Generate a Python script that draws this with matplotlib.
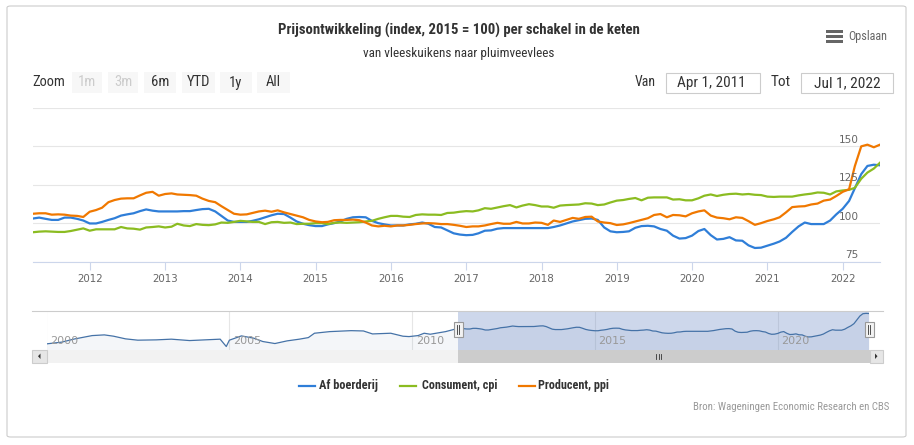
import pandas as pd
import matplotlib
matplotlib.use("Agg")
import matplotlib.pyplot as plt
import matplotlib.dates as mdates
import matplotlib.transforms as mtransforms
from matplotlib import font_manager
from matplotlib.patches import Rectangle, FancyBboxPatch, Polygon
from matplotlib.lines import Line2D

# ---------------- data ----------------
title = "Prijsontwikkeling (index, 2015 = 100) per schakel in de keten"
subtitle = "van vleeskuikens naar pluimveevlees"
series_names = ["Af boerderij", "Consument, cpi", "Producent, ppi"]
series_colors = ["#2f7ed8", "#8bbc21", "#f07800"]
first_month = "2011-04-01"
last_month = "2022-07-01"

af_boerderij = [
    103.0, 103.6, 102.8, 102.1, 102.1, 103.6, 103.6, 102.8, 101.7,
    99.8, 99.8, 100.8, 102.1, 103.2, 104.9, 105.7, 106.4, 107.8, 108.9, 108.1, 107.6,
    107.6, 107.6, 107.6, 107.8, 107.8, 108.5, 109.1, 109.3, 107.6, 104.7, 101.7, 100.8,
    100.8, 100.8, 101.5, 102.5, 103.8, 105.1, 106.1, 105.9, 103.6, 101.1, 99.6, 98.7,
    98.1, 98.1, 99.2, 100.0, 101.1, 102.8, 103.8, 104.0, 103.8, 101.5, 100.0, 99.2,
    98.5, 98.5, 98.5, 99.2, 99.6, 100.4, 99.6, 97.5, 97.2, 95.3, 93.4, 92.6,
    92.2, 92.4, 93.4, 95.1, 95.3, 96.4, 96.8, 96.8, 96.8, 96.8, 96.8, 96.8,
    96.8, 96.8, 97.5, 98.5, 99.8, 101.1, 101.9, 102.8, 103.0, 102.1, 97.2, 94.7,
    94.1, 94.3, 94.7, 97.0, 98.1, 98.3, 97.9, 96.2, 95.1, 91.9, 90.0, 90.3,
    91.9, 94.9, 96.2, 92.2, 89.4, 89.8, 90.9, 88.8, 88.6, 85.6, 83.9, 84.1,
    85.4, 86.7, 88.1, 90.5, 94.3, 97.9, 100.4, 99.4, 99.4, 99.4, 101.7, 105.7,
    109.3, 114.4, 122.7, 131.8, 137.1, 137.9, 137.5,
]
consument_cpi = [
    94.1, 94.5, 94.7, 94.5, 94.3, 94.3, 94.9, 95.8, 96.6,
    95.1, 96.0, 96.0, 96.0, 96.0, 97.5, 96.6, 96.4, 95.8, 97.2, 97.5, 97.9,
    97.2, 97.7, 99.6, 98.5, 98.1, 99.4, 98.9, 98.7, 99.2, 100.4, 100.2, 100.8,
    101.5, 101.1, 100.8, 100.8, 99.4, 100.6, 100.8, 100.2, 100.4, 99.4, 99.6, 99.6,
    100.0, 100.0, 99.4, 100.2, 100.4, 100.2, 100.4, 100.6, 101.1, 101.5, 102.8, 103.8,
    104.7, 104.7, 104.2, 104.0, 105.3, 105.7, 105.5, 105.5, 105.3, 106.6, 106.8, 107.4,
    107.8, 107.6, 108.3, 109.7, 109.3, 110.2, 111.0, 111.7, 110.2, 111.4, 112.3, 111.7,
    110.8, 110.8, 110.0, 111.4, 111.7, 111.9, 112.1, 112.9, 112.7, 111.7, 112.1, 113.4,
    114.6, 115.0, 115.7, 116.3, 114.8, 116.5, 116.7, 116.7, 116.7, 115.3, 115.5, 114.8,
    114.8, 116.1, 117.8, 118.6, 117.6, 118.4, 118.9, 119.1, 118.6, 118.9, 118.4, 118.2,
    117.2, 117.0, 117.2, 117.2, 117.2, 118.0, 118.6, 119.1, 119.9, 119.7, 118.6, 120.6,
    121.2, 121.6, 122.9, 128.8, 132.8, 135.4, 139.2,
]
producent_ppi = [
    106.1, 106.4, 106.4, 105.5, 105.7, 105.5, 104.9, 104.7, 104.0,
    107.4, 108.5, 110.0, 113.6, 115.0, 115.9, 116.1, 116.1, 118.0, 119.7, 120.3, 117.8,
    118.9, 119.3, 118.6, 118.4, 118.2, 117.8, 115.9, 114.4, 113.6, 111.0, 108.5, 106.1,
    105.5, 105.7, 106.6, 107.6, 108.1, 107.4, 108.3, 107.0, 105.9, 104.9, 103.8, 102.1,
    101.1, 100.6, 100.8, 101.9, 102.1, 102.1, 102.3, 101.9, 100.4, 98.5, 97.9, 98.3,
    97.9, 98.5, 98.5, 98.9, 99.4, 99.8, 100.0, 99.8, 99.4, 99.4, 98.9, 98.3,
    97.5, 97.9, 97.9, 98.5, 99.4, 100.2, 99.6, 99.6, 100.8, 99.8, 99.8, 100.4,
    100.2, 98.9, 101.7, 100.8, 102.1, 103.4, 102.8, 104.0, 104.2, 101.1, 100.4, 100.0,
    98.8, 99.2, 100.0, 101.1, 102.1, 103.2, 105.3, 105.9, 103.8, 105.3, 105.1, 104.4,
    106.4, 107.6, 108.3, 104.9, 103.6, 103.2, 102.5, 103.8, 103.4, 101.3, 98.9, 100.0,
    101.4, 102.5, 103.8, 107.0, 110.4, 110.8, 111.0, 112.1, 112.7, 114.6, 115.3, 117.6,
    120.3, 122.0, 137.0, 149.8, 150.9, 149.2, 150.9,
]

# navigator: full history of "Af boerderij" before the selected range
nav_hist_dates = [
    "2000-01", "2000-06", "2000-10", "2001-04", "2001-08", "2001-11", "2002-03",
    "2002-07", "2003-01", "2003-06", "2003-12", "2004-05", "2004-10", "2004-12",
    "2005-01", "2005-05", "2005-09", "2005-12", "2006-04", "2006-08", "2006-12",
    "2007-03", "2007-05", "2007-10", "2008-05", "2008-09", "2008-12", "2009-06",
    "2009-10", "2009-12", "2010-03", "2010-05", "2010-07", "2010-12", "2011-03",
]
nav_hist_values = [
    68.0, 72.0, 79.0, 87.0, 88.6, 85.6, 79.5,
    76.5, 77.2, 78.8, 75.6, 77.2, 78.8, 62.0,
    76.5, 86.3, 81.1, 73.4, 68.8, 74.9, 78.8,
    82.4, 92.4, 96.1, 98.3, 97.6, 90.8, 92.4,
    85.6, 84.7, 87.0, 92.4, 90.1, 96.1, 101.5,
]

year_ticks = list(range(2012, 2023))
y_ticks = [75, 100, 125, 150, 175]
y_tick_labels = ["75", "100", "125", "150"]
nav_year_ticks = [2000, 2005, 2010, 2015, 2020]
range_buttons = ["1m", "3m", "6m", "YTD", "1y", "All"]
range_from = "Apr 1, 2011"
range_to = "Jul 1, 2022"
credit = "Bron: Wageningen Economic Research en CBS"
menu_label = "Opslaan"

# ---------------- fonts ----------------
available = {f.name for f in font_manager.fontManager.ttflist}


def pick(*names):
    for n in names:
        if n in available:
            return n
    return "DejaVu Sans"


UI_FONT = pick("Liberation Sans Narrow", "Roboto Condensed", "Open Sans Condensed", "Roboto", "Open Sans")
AXIS_FONT = "DejaVu Sans"

# ---------------- figure ----------------
W, H = 914, 445
fig = plt.figure(figsize=(W / 100, H / 100), dpi=100)
fig.patch.set_facecolor("white")
renderer = fig.canvas.get_renderer()


def fx(x):
    return x / W


def fy(y):
    return 1 - y / H


def ftext(x, y, s, target_w=None, **kw):
    kw.setdefault("family", UI_FONT)
    kw.setdefault("va", "center")
    t = fig.text(fx(x), fy(y), s, **kw)
    if target_w:
        w = t.get_window_extent(renderer=renderer).width
        t.set_fontsize(t.get_fontsize() * target_w / w)
    return t


def frect(x0, y0, x1, y1, **kw):
    r = Rectangle((fx(x0), fy(y1)), fx(x1) - fx(x0), fy(y0) - fy(y1),
                  transform=fig.transFigure, **kw)
    fig.add_artist(r)
    return r


def fline(x0, y0, x1, y1, **kw):
    fig.add_artist(Line2D([fx(x0), fx(x1)], [fy(y0), fy(y1)], transform=fig.transFigure, **kw))


# outer border
fig.add_artist(FancyBboxPatch((fx(7), fy(437)), fx(906) - fx(7), fy(6) - fy(437),
                              boxstyle="round,pad=0,rounding_size=0.004",
                              transform=fig.transFigure, fc="none", ec="#cccccc", lw=0.8))

# titles
ftext(459, 30, title, target_w=362, ha="center", color="#333333", fontsize=11, fontweight="bold")
ftext(459, 53, subtitle, target_w=194, ha="center", color="#333333", fontsize=9)

# export menu
for yy in (31.7, 36.7, 41.7):
    frect(826, yy - 1.4, 843, yy + 1.4, fc="#666666", ec="none")
ftext(848, 36.5, menu_label, target_w=39, ha="left", color="#666666", fontsize=8)

# range selector
ftext(32, 82.5, "Zoom", target_w=33, ha="left", color="#333333", fontsize=10)
btn_x = [(72, 102), (108, 138), (144, 176), (182, 215), (220, 252), (257, 290)]
btn_disabled = [True, True, False, False, False, False]
for (x0, x1), lab, dis in zip(btn_x, range_buttons, btn_disabled):
    frect(x0, 72, x1, 93, fc="#f7f7f7", ec="none")
    ftext((x0 + x1) / 2, 82.5, lab, ha="center", color="#cccccc" if dis else "#333333", fontsize=10.5)

ftext(656, 82.5, "Van", target_w=21, ha="right", color="#333333", fontsize=10)
frect(665.5, 72.7, 759.7, 93.3, fc="white", ec="#cccccc", lw=0.8)
ftext(711, 83, range_from, target_w=68, ha="center", color="#333333", fontsize=10)
ftext(791, 82.5, "Tot", target_w=20, ha="right", color="#333333", fontsize=10)
frect(801, 72.7, 893, 93.3, fc="white", ec="#cccccc", lw=0.8)
ftext(847, 83, range_to, target_w=66, ha="center", color="#333333", fontsize=10)

# ---------------- main chart ----------------
months = pd.date_range(first_month, last_month, freq="MS")
x0_date = pd.Timestamp(first_month)
x1_date = pd.Timestamp(last_month)

ax = fig.add_axes([fx(33), fy(261.7), (880 - 33) / W, (261.7 - 107.5) / H])
ax.set_facecolor("none")
for values, color, name in zip([af_boerderij, consument_cpi, producent_ppi], series_colors, series_names):
    ax.plot(months, values, color=color, lw=1.6, label=name, solid_joinstyle="round", zorder=3)
ax.set_xlim(x0_date, x1_date)
ax.set_ylim(y_ticks[0], y_ticks[-1])
ax.set_yticks(y_ticks)
ax.yaxis.grid(True, color="#e6e6e6", lw=0.8)
ax.tick_params(axis="y", length=0, labelleft=False)
for s in ("top", "right", "left"):
    ax.spines[s].set_visible(False)
ax.spines["bottom"].set_color("#ccd6eb")
ax.spines["bottom"].set_linewidth(0.8)
ax.set_xticks([pd.Timestamp(f"{y}-01-01") for y in year_ticks])
ax.set_xticklabels([str(y) for y in year_ticks], family=AXIS_FONT, fontsize=7.4, color="#666666")
ax.tick_params(axis="x", length=6, width=0.8, color="#ccd6eb", pad=2.5)
trans = mtransforms.blended_transform_factory(ax.transAxes, ax.transData)
for v, lab in zip(y_ticks, y_tick_labels):
    ax.annotate(lab, (0.975, v), xycoords=trans, xytext=(0, 4.6), textcoords="offset points",
                ha="right", va="center", family=AXIS_FONT, fontsize=7.6, color="#666666")

# ---------------- navigator ----------------
nav_dates = list(pd.to_datetime(nav_hist_dates)) + list(months)
nav_values = nav_hist_values + af_boerderij
nav = fig.add_axes([fx(46.5), fy(350), (869 - 46.5) / W, (350 - 310.7) / H])
nav.set_xlim(pd.Timestamp("2000-01-01"), x1_date)
nav.set_ylim(54, 144)
nav.fill_between(nav_dates, nav_values, 54, color="#4572a7", alpha=0.06, lw=0)
nav.plot(nav_dates, nav_values, color="#4572a7", lw=0.9)
nav.axvspan(x0_date, x1_date, color=(102 / 255, 133 / 255, 194 / 255, 0.32), lw=0)
for y in nav_year_ticks:
    d = pd.Timestamp(f"{y}-01-01")
    nav.axvline(d, color="#e6e6e6", lw=0.8, zorder=0)
    nav.annotate(str(y), (d, 0), xycoords=("data", "axes fraction"), xytext=(2.5, 6.5),
                 textcoords="offset points", ha="left", va="center",
                 family=AXIS_FONT, fontsize=8, color="#999999")
nav.set_xticks([])
nav.set_yticks([])
for s in nav.spines.values():
    s.set_visible(False)
fline(32, 310.7, 883, 310.7, color="#cccccc", lw=0.8)

# navigator handles
for hx in (458, 869):
    frect(hx - 4.5, 321.5, hx + 4.5, 337, fc="#f2f2f2", ec="#999999", lw=0.8, zorder=5)
    fline(hx - 1.3, 325, hx - 1.3, 333.5, color="#333333", lw=0.6, zorder=6)
    fline(hx + 1.3, 325, hx + 1.3, 333.5, color="#333333", lw=0.6, zorder=6)

# scrollbar
frect(46.5, 350, 870, 362.5, fc="#f2f2f2", ec="none")
frect(458, 350, 870, 362.5, fc="#cccccc", ec="none")
for rx in (656, 658.5, 661):
    fline(rx, 353.5, rx, 359, color="#333333", lw=0.6)
frect(32, 350, 46.5, 362.5, fc="#e6e6e6", ec="#cccccc", lw=0.8)
frect(870, 350, 883, 362.5, fc="#e6e6e6", ec="#cccccc", lw=0.8)
fig.add_artist(Polygon([[fx(40.5), fy(353.5)], [fx(40.5), fy(359)], [fx(38), fy(356.2)]],
                       closed=True, transform=fig.transFigure, fc="#333333", ec="none"))
fig.add_artist(Polygon([[fx(875), fy(353.5)], [fx(875), fy(359)], [fx(877.5), fy(356.2)]],
                       closed=True, transform=fig.transFigure, fc="#333333", ec="none"))

# ---------------- legend ----------------
legend_pos = [(299, 319, 59), (400, 421.5, 75.5), (518.6, 538, 71)]
for (sx, tx, tw), name, color in zip(legend_pos, series_names, series_colors):
    fline(sx, 386, sx + 16, 386, color=color, lw=1.6)
    ftext(tx, 386, name, target_w=tw, ha="left", color="#333333", fontsize=10, fontweight="bold")

# credits
ftext(889, 406.5, credit, target_w=196, ha="right", color="#999999", fontsize=8)

fig.savefig("out.png", dpi=100, facecolor="white")
